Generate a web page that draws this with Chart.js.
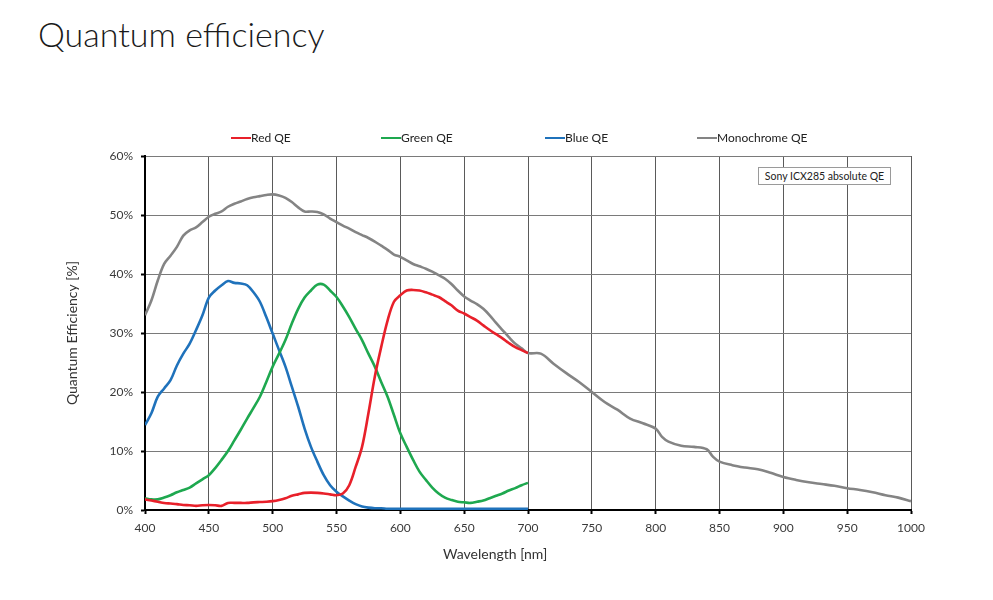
<!DOCTYPE html>
<html>
<head>
<meta charset="utf-8">
<title>Quantum efficiency</title>
<script src="https://cdn.jsdelivr.net/npm/chart.js@4.4.1/dist/chart.umd.min.js"></script>
<style>
  html, body { margin: 0; padding: 0; background: #fff; }
  body { width: 993px; height: 600px; position: relative; overflow: hidden; font-family: Lato, sans-serif; }
  #page-title { position: absolute; left: 38px; top: 17px; font-size: 34px; font-weight: 300; line-height: 1; color: #1a1a1a; margin: 0; }
  #chart-wrap { position: absolute; left: 0; top: 0; width: 993px; height: 600px; }
  #legend { position: absolute; top: 130px; left: 0; height: 16px; font-size: 12px; color: #222; }
  .lg-item { position: absolute; top: 0; white-space: nowrap; line-height: 16px; }
  .lg-item i { display: inline-block; width: 20px; height: 2px; vertical-align: middle; margin-top: -2px; }
  #note { position: absolute; left: 758px; top: 167px; width: 131px; height: 16px; border: 1px solid #9a9a9a; background: #fff;
          font-size: 10.5px; line-height: 16px; text-align: center; color: #222; }
  #x-title { position: absolute; left: 443px; top: 545px; font-size: 14px; color: #333; }
</style>
</head>
<body>
<h1 id="page-title">Quantum efficiency</h1>
<div id="chart-wrap"><canvas id="qeChart" width="993" height="600"></canvas></div>
<div id="legend"></div>
<div id="note">Sony ICX285 absolute QE</div>
<div id="x-title">Wavelength [nm]</div>

<script>
/* ---------- Dados ---------- */
const wavelengths = [
  400, 405, 410, 415, 420, 425, 430, 435, 440, 445, 450, 455, 460, 465, 470, 475, 480, 485, 490, 495,
  500, 505, 510, 515, 520, 525, 530, 535, 540, 545, 550, 555, 560, 565, 570, 575, 580, 585, 590, 595,
  600, 605, 610, 615, 620, 625, 630, 635, 640, 645, 650, 655, 660, 665, 670, 675, 680, 685, 690, 695, 700
];

const redQE = [
  1.8, 1.6, 1.4, 1.2, 1.1, 1.0, 0.85, 0.8, 0.7, 0.8, 0.85, 0.8, 0.7, 1.2, 1.2, 1.2, 1.2, 1.3, 1.35, 1.4,
  1.5, 1.7, 2.0, 2.4, 2.65, 2.9, 2.95, 2.9, 2.8, 2.65, 2.5, 2.8, 4.2, 7.3, 10.7, 16.4, 22.6, 27.6, 32.1, 35.3,
  36.4, 37.2, 37.3, 37.2, 36.9, 36.5, 36.1, 35.4, 34.7, 33.8, 33.3, 32.7, 32.1, 31.3, 30.5, 29.8, 29.1, 28.3, 27.6, 27.1, 26.6
];

const greenQE = [
  2.0, 1.8, 1.8, 2.1, 2.5, 3.0, 3.4, 3.8, 4.5, 5.2, 5.9, 7.1, 8.5, 10.0, 11.8, 13.6, 15.5, 17.3, 19.2, 21.7,
  24.3, 26.5, 28.8, 31.6, 34.1, 36.0, 37.2, 38.2, 38.2, 37.2, 36.1, 34.5, 32.7, 30.7, 28.8, 26.5, 24.3, 21.7, 19.2, 16.1,
  13.0, 10.7, 8.5, 6.5, 5.1, 3.8, 2.8, 2.1, 1.7, 1.4, 1.3, 1.2, 1.4, 1.6, 2.0, 2.4, 2.8, 3.3, 3.7, 4.2, 4.6
];

const blueQE = [
  14.4, 16.4, 19.2, 20.6, 22.0, 24.5, 26.5, 28.2, 30.5, 33.0, 36.0, 37.2, 38.1, 38.8, 38.5, 38.4, 38.1, 36.9, 35.3, 32.7,
  29.9, 27.1, 24.3, 20.9, 17.5, 13.8, 10.7, 8.2, 5.9, 4.2, 3.1, 2.3, 1.6, 1.0, 0.6, 0.4, 0.3, 0.3, 0.2, 0.2,
  0.2, 0.2, 0.2, 0.2, 0.2, 0.2, 0.2, 0.2, 0.2, 0.2, 0.2, 0.2, 0.2, 0.2, 0.2, 0.2, 0.2, 0.2, 0.2, 0.2, 0.2
];

const monoWavelengths = wavelengths.concat([
  710, 720, 730, 740, 750, 760, 770, 780, 790, 800, 805, 810, 820, 830, 840, 845, 850, 860, 870, 880,
  890, 900, 910, 920, 930, 940, 950, 960, 970, 980, 990, 1000
]);

const monoQE = [
  33.0, 35.5, 38.9, 41.7, 43.1, 44.6, 46.5, 47.4, 47.9, 48.8, 49.7, 50.2, 50.6, 51.4, 51.9, 52.3, 52.7, 53.0, 53.2, 53.4,
  53.5, 53.3, 52.9, 52.2, 51.3, 50.6, 50.6, 50.5, 50.1, 49.4, 48.8, 48.2, 47.7, 47.1, 46.6, 46.1, 45.5, 44.8, 44.1, 43.3,
  42.9, 42.3, 41.7, 41.3, 40.9, 40.4, 39.8, 39.2, 38.3, 37.2, 36.2, 35.5, 34.9, 34.1, 33.0, 31.7, 30.5, 29.3, 28.2, 27.4, 26.6,
  26.5, 24.8, 23.2, 21.7, 20.0, 18.3, 17.0, 15.5, 14.7, 13.8, 12.4, 11.6, 10.9, 10.7, 10.3, 9.0, 8.2, 7.6, 7.2, 6.9,
  6.3, 5.6, 5.1, 4.7, 4.4, 4.1, 3.7, 3.4, 3.0, 2.5, 2.1, 1.5
];

const seriesNames = ['Red QE', 'Green QE', 'Blue QE', 'Monochrome QE'];
const seriesColors = ['#e8202a', '#1ea84f', '#1f72bb', '#848484'];

const xTicks = [400, 450, 500, 550, 600, 650, 700, 750, 800, 850, 900, 950, 1000];
const yTicks = [0, 10, 20, 30, 40, 50, 60];

/* ---------- Montagem ---------- */
function toPoints(xs, ys) {
  return ys.map((y, i) => ({ x: xs[i], y: y }));
}

const seriesData = [
  toPoints(wavelengths, redQE),
  toPoints(wavelengths, greenQE),
  toPoints(wavelengths, blueQE),
  toPoints(monoWavelengths, monoQE)
];

// cinza por baixo das outras, como no original
const datasets = seriesNames.map((name, i) => ({
  label: name,
  data: seriesData[i],
  borderColor: seriesColors[i],
  backgroundColor: seriesColors[i],
  borderWidth: 2.6,
  pointRadius: 0,
  tension: 0.35,
  order: i === 3 ? 10 : i
}));

// legenda em HTML
const legendLeft = [231, 381, 545, 697];
const legendEl = document.getElementById('legend');
seriesNames.forEach((name, i) => {
  const span = document.createElement('span');
  span.className = 'lg-item';
  span.style.left = legendLeft[i] + 'px';
  span.innerHTML = `<i style="background:${seriesColors[i]}"></i>${name}`;
  legendEl.appendChild(span);
});

const gridColor = '#5a5a5a';
const tickFont = { family: 'Lato, sans-serif', size: 12 };

new Chart(document.getElementById('qeChart').getContext('2d'), {
  type: 'line',
  data: { datasets: datasets },
  options: {
    responsive: false,
    animation: false,
    layout: { padding: { top: 156, right: 82, bottom: 0, left: 0 } },
    plugins: { legend: { display: false }, tooltip: { enabled: false } },
    scales: {
      x: {
        type: 'linear',
        min: 400, max: 1000,
        afterBuildTicks: (scale) => { scale.ticks = xTicks.map(v => ({ value: v })); },
        afterFit: (scale) => { scale.height = 90; },
        ticks: { font: tickFont, color: '#3a3a3a', padding: 7, maxRotation: 0, callback: (v) => String(v) },
        grid: { color: gridColor, lineWidth: 1, tickLength: 4, tickColor: '#000', tickWidth: 2 },
        border: { color: '#000', width: 2 }
      },
      y: {
        min: 0, max: 60,
        afterBuildTicks: (scale) => { scale.ticks = yTicks.map(v => ({ value: v })); },
        afterFit: (scale) => { scale.width = 145; },
        ticks: { font: tickFont, color: '#3a3a3a', padding: 8, callback: (v) => v + '%' },
        grid: { color: '#7a7a7a', lineWidth: 1, tickLength: 4, tickColor: '#000', tickWidth: 2 },
        border: { color: '#000', width: 2 },
        title: {
          display: true,
          text: 'Quantum Efficiency [%]',
          color: '#333',
          font: { family: 'Lato, sans-serif', size: 14 },
          padding: { top: 64, bottom: 0 }
        }
      }
    }
  }
});
</script>
</body>
</html>
